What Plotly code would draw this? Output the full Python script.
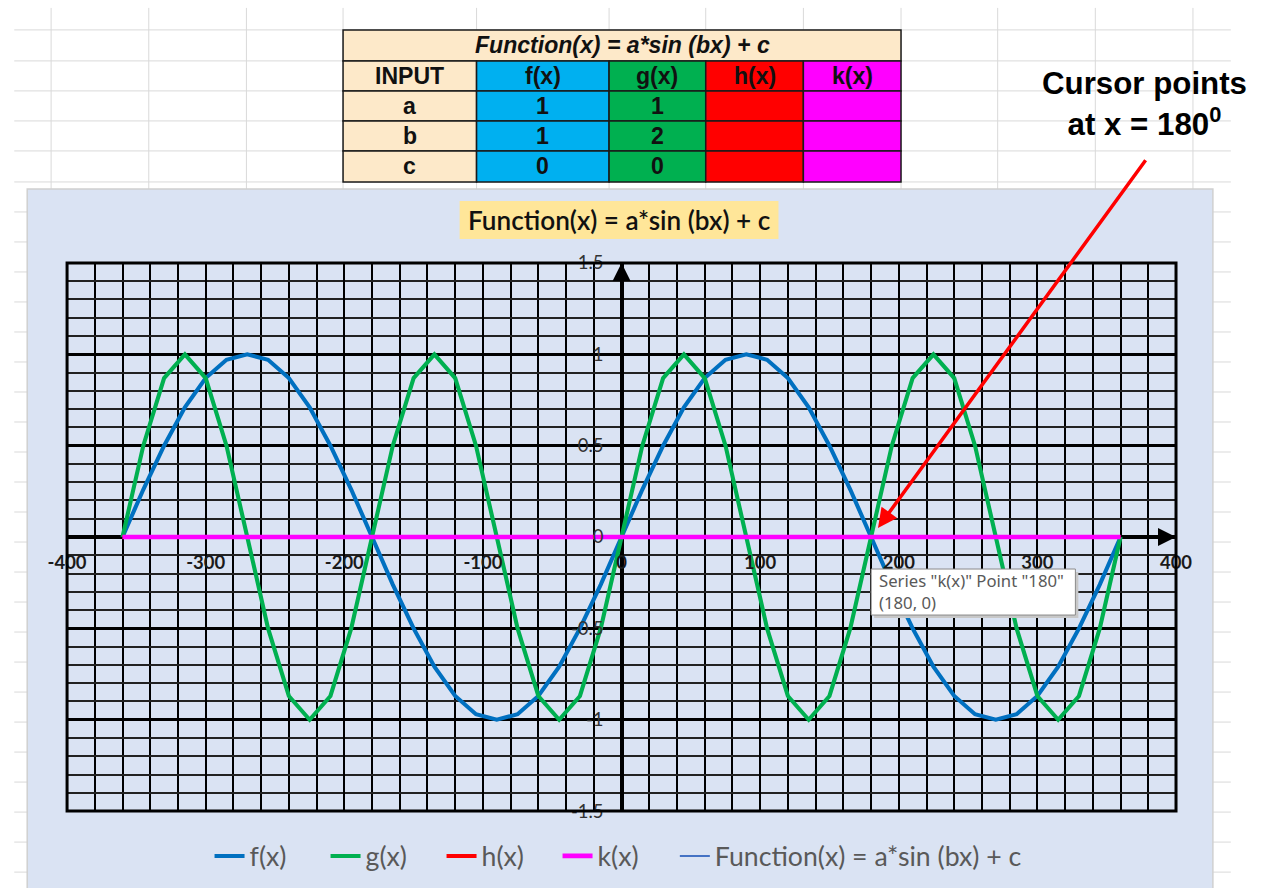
import plotly.graph_objects as go

W, H = 1261, 888

# ---------------- data ----------------
X_DEG = [-360, -345, -330, -315, -300, -285, -270, -255, -240, -225, -210, -195,
         -180, -165, -150, -135, -120, -105, -90, -75, -60, -45, -30, -15,
         0, 15, 30, 45, 60, 75, 90, 105, 120, 135, 150, 165,
         180, 195, 210, 225, 240, 255, 270, 285, 300, 315, 330, 345, 360]

F_VALUES = [0, 0.26, 0.5, 0.71, 0.87, 0.97, 1, 0.97, 0.87, 0.71, 0.5, 0.26,
            0, -0.26, -0.5, -0.71, -0.87, -0.97, -1, -0.97, -0.87, -0.71, -0.5, -0.26,
            0, 0.26, 0.5, 0.71, 0.87, 0.97, 1, 0.97, 0.87, 0.71, 0.5, 0.26,
            0, -0.26, -0.5, -0.71, -0.87, -0.97, -1, -0.97, -0.87, -0.71, -0.5, -0.26, 0]

G_VALUES = [0, 0.5, 0.87, 1, 0.87, 0.5, 0, -0.5, -0.87, -1, -0.87, -0.5,
            0, 0.5, 0.87, 1, 0.87, 0.5, 0, -0.5, -0.87, -1, -0.87, -0.5,
            0, 0.5, 0.87, 1, 0.87, 0.5, 0, -0.5, -0.87, -1, -0.87, -0.5,
            0, 0.5, 0.87, 1, 0.87, 0.5, 0, -0.5, -0.87, -1, -0.87, -0.5, 0]

H_VALUES = [0, 0, 0, 0, 0, 0, 0, 0, 0, 0, 0, 0,
            0, 0, 0, 0, 0, 0, 0, 0, 0, 0, 0, 0,
            0, 0, 0, 0, 0, 0, 0, 0, 0, 0, 0, 0,
            0, 0, 0, 0, 0, 0, 0, 0, 0, 0, 0, 0, 0]

K_VALUES = [0, 0, 0, 0, 0, 0, 0, 0, 0, 0, 0, 0,
            0, 0, 0, 0, 0, 0, 0, 0, 0, 0, 0, 0,
            0, 0, 0, 0, 0, 0, 0, 0, 0, 0, 0, 0,
            0, 0, 0, 0, 0, 0, 0, 0, 0, 0, 0, 0, 0]

SERIES_NAMES = ["f(x)", "g(x)", "h(x)", "k(x)", "Function(x) = a*sin (bx) + c"]

X_TICKS = [-400, -300, -200, -100, 0, 100, 200, 300, 400]
X_TICK_TEXT = ["-400", "-300", "-200", "-100", "0", "100", "200", "300", "400"]
Y_TICKS = [-1.5, -1, -0.5, 0, 0.5, 1, 1.5]
Y_TICK_TEXT = ["-1.5", "-1", "-0.5", "0", "0.5", "1", "1.5"]

CHART_TITLE = "Function(x) = a*sin (bx) + c"
TABLE_TITLE = "Function(x) = a*sin (bx) + c"
TABLE_HEADERS = ["INPUT", "f(x)", "g(x)", "h(x)", "k(x)"]
PARAM_NAMES = ["a", "b", "c"]
F_PARAMS = ["1", "1", "0"]
G_PARAMS = ["1", "2", "0"]
H_PARAMS = ["", "", ""]
K_PARAMS = ["", "", ""]

TOOLTIP_LINES = ['Series "k(x)" Point "180"', "(180, 0)"]
CURSOR_NOTE = "Cursor points<br>at x = 180<sup>0</sup>"
CURSOR_X = 180
CURSOR_Y = 0

# ---------------- helpers ----------------
# the photographed page comes out slightly shrunk about its centre; lay out
# in target-picture pixels and map them back to page coordinates.
S = 0.975
CX, CY = W / 2, H / 2


def px(x):
    return (CX + (x - CX) / S) / W


def py(y):
    return 1 - (CY + (y - CY) / S) / H


def fs(v):
    return v / S


# plot area in pixels
PL, PR, PT, PB = 63, 1176, 262, 810

fig = go.Figure()

colors = ["#0070C0", "#00B050", "#FF0000", "#FF00FF", "#4472C4"]
series = [F_VALUES, G_VALUES, H_VALUES, K_VALUES]
widths = [4, 4, 4, 4.5]
for name, vals, c, w in zip(SERIES_NAMES[:4], series, colors[:4], widths):
    fig.add_trace(go.Scatter(x=X_DEG, y=vals, mode="lines", name=name,
                             line=dict(color=c, width=fs(w)), hoverinfo="skip"))
fig.add_trace(go.Scatter(x=[None], y=[None], mode="lines", name=SERIES_NAMES[4],
                         line=dict(color=colors[4], width=2), hoverinfo="skip",
                         legend="legend2"))

# ---------------- shapes: spreadsheet background ----------------
shapes = []
sheet_line = dict(color="#D9D9D9", width=1)
row_ys = [29, 60, 90, 120, 150, 181] + [211 + 30 * i for i in range(23)]
for yy in row_ys:
    shapes.append(dict(type="line", xref="paper", yref="paper", layer="below",
                       x0=px(10), x1=px(1231), y0=py(yy), y1=py(yy), line=sheet_line))
for xx in [47, 145, 243, 340, 474, 607, 704, 802, 900, 997, 1095, 1193]:
    shapes.append(dict(type="line", xref="paper", yref="paper", layer="below",
                       x0=px(xx), x1=px(xx), y0=py(7), y1=py(900), line=sheet_line))

# chart area
shapes.append(dict(type="rect", xref="paper", yref="paper", layer="below",
                   x0=px(23), x1=px(1213), y0=py(188), y1=py(905),
                   fillcolor="#DAE3F3", line=dict(color="#D0D0D0", width=1.5)))

# chart title box
shapes.append(dict(type="rect", xref="paper", yref="paper", layer="below",
                   x0=px(457), x1=px(777), y0=py(200), y1=py(238),
                   fillcolor="#FFE699", line=dict(width=0)))

# ---------------- table ----------------
col_x = [340, 474, 607, 704, 802, 900]
row_y = [29, 60, 90, 120, 150, 181]
beige = "#FDE9C9"
col_fill = [beige, "#00B0F0", "#00B050", "#FF0000", "#FF00FF"]
tb_line = dict(color="#1A1A1A", width=1.5)
shapes.append(dict(type="rect", xref="paper", yref="paper", layer="above",
                   x0=px(col_x[0]), x1=px(col_x[-1]), y0=py(row_y[0]), y1=py(row_y[1]),
                   fillcolor=beige, line=tb_line))
for ci in range(5):
    for ri in range(1, 5):
        shapes.append(dict(type="rect", xref="paper", yref="paper", layer="above",
                           x0=px(col_x[ci]), x1=px(col_x[ci + 1]),
                           y0=py(row_y[ri]), y1=py(row_y[ri + 1]),
                           fillcolor=col_fill[ci], line=tb_line))

# plot border
shapes.append(dict(type="rect", xref="x domain", yref="y domain", layer="above",
                   x0=0, x1=1, y0=0, y1=1, line=dict(color="black", width=3)))

# tooltip box (with soft shadow)
shapes.append(dict(type="rect", xref="paper", yref="paper", layer="above",
                   x0=px(873), x1=px(1078), y0=py(571), y1=py(617),
                   fillcolor="#C8C8C8", line=dict(width=0)))
shapes.append(dict(type="rect", xref="paper", yref="paper", layer="above",
                   x0=px(870), x1=px(1075), y0=py(568), y1=py(614),
                   fillcolor="white", line=dict(color="#8A8A8A", width=1)))

annotations = []
tfont = dict(family="Liberation Sans", size=fs(22.5), color="#111111")
annotations.append(dict(xref="paper", yref="paper", x=px((col_x[0] + col_x[-1]) / 2),
                        y=py((row_y[0] + row_y[1]) / 2), text="<b><i>" + TABLE_TITLE + "</i></b>",
                        showarrow=False, font=tfont, xanchor="center", yanchor="middle"))
for ci, hdr in enumerate(TABLE_HEADERS):
    annotations.append(dict(xref="paper", yref="paper", x=px((col_x[ci] + col_x[ci + 1]) / 2),
                            y=py((row_y[1] + row_y[2]) / 2), text="<b>" + hdr + "</b>",
                            showarrow=False, font=tfont, xanchor="center", yanchor="middle"))
columns = [PARAM_NAMES, F_PARAMS, G_PARAMS, H_PARAMS, K_PARAMS]
for ci, col in enumerate(columns):
    for ri, val in enumerate(col):
        if val == "":
            continue
        annotations.append(dict(xref="paper", yref="paper", x=px((col_x[ci] + col_x[ci + 1]) / 2),
                                y=py((row_y[ri + 2] + row_y[ri + 3]) / 2), text="<b>" + val + "</b>",
                                showarrow=False, font=tfont, xanchor="center", yanchor="middle"))

# chart title
annotations.append(dict(xref="paper", yref="paper", x=px(617), y=py(219), text=CHART_TITLE,
                        showarrow=False, xanchor="center", yanchor="middle",
                        font=dict(family="Lato", size=fs(25.5), color="#111111", weight=600)))

# axis arrows
annotations.append(dict(x=400, y=0, ax=375, ay=0, xref="x", yref="y", axref="x", ayref="y",
                        text="", showarrow=True, arrowhead=2, arrowsize=1.2, arrowwidth=3,
                        arrowcolor="black", standoff=0))
annotations.append(dict(x=0, y=1.5, ax=0, ay=1.35, xref="x", yref="y", axref="x", ayref="y",
                        text="", showarrow=True, arrowhead=2, arrowsize=1.2, arrowwidth=3,
                        arrowcolor="black", standoff=0))

# tooltip text
annotations.append(dict(xref="paper", yref="paper", x=px(876), y=py(590),
                        text=TOOLTIP_LINES[0] + "<br>" + TOOLTIP_LINES[1], align="left",
                        showarrow=False, xanchor="left", yanchor="middle",
                        font=dict(family="Noto Sans", size=fs(16.3), color="#595959")))

# cursor note
annotations.append(dict(xref="paper", yref="paper", x=px(1144), y=py(103), text="<b>" + CURSOR_NOTE + "</b>",
                        showarrow=False, xanchor="center", yanchor="middle", align="center",
                        font=dict(family="Liberation Sans", size=fs(30.5), color="black")))

# red pointer arrow to the cursor point
annotations.append(dict(x=CURSOR_X + 5, y=CURSOR_Y + 0.05, xref="x", yref="y", text="",
                        showarrow=True, ax=262 / S, ay=-360 / S, axref="pixel", ayref="pixel",
                        arrowhead=2, arrowsize=1.1, arrowwidth=3.5, arrowcolor="#FF0000", standoff=0))

xdom = [px(PL), px(PR)]
ydom = [py(PB), py(PT)]
x_zero_paper = xdom[0] + (xdom[1] - xdom[0]) * 0.5
y_zero_paper = ydom[0] + (ydom[1] - ydom[0]) * 0.5

legend_font = dict(family="Lato", size=fs(26), color="#595959")

fig.update_layout(
    width=W, height=H,
    margin=dict(l=0, r=0, t=0, b=0),
    paper_bgcolor="white",
    plot_bgcolor="#DAE3F3",
    hovermode=False,
    shapes=shapes,
    annotations=annotations,
    showlegend=True,
    legend=dict(orientation="h", x=px(206), y=py(855), xanchor="left", yanchor="middle",
                bgcolor="rgba(0,0,0,0)", font=legend_font,
                itemwidth=30, entrywidth=round(fs(69)), tracegroupgap=0),
    legend2=dict(orientation="h", x=px(673), y=py(855), xanchor="left", yanchor="middle",
                 bgcolor="rgba(0,0,0,0)", font=legend_font, itemwidth=30),
    xaxis=dict(domain=xdom, range=[-400, 400], anchor="free", position=y_zero_paper,
               tickmode="array", tickvals=X_TICKS,
               ticktext=["<b>" + t + "</b>" for t in X_TICK_TEXT],
               tickfont=dict(family="Lato", size=fs(18), color="#1A1A1A"),
               ticks="", ticklabelstandoff=13,
               showgrid=True, gridcolor="black", gridwidth=2,
               minor=dict(dtick=20, tick0=0, showgrid=True, gridcolor="black", gridwidth=2),
               zeroline=True, zerolinecolor="black", zerolinewidth=4,
               showline=False, fixedrange=True),
    yaxis=dict(domain=ydom, range=[-1.5, 1.5], anchor="free", position=x_zero_paper,
               tickmode="array", tickvals=Y_TICKS, ticktext=Y_TICK_TEXT,
               tickfont=dict(family="Lato", size=fs(18), color="#333333"),
               ticks="", ticklabelstandoff=18,
               showgrid=True, gridcolor="black", gridwidth=2.5,
               minor=dict(dtick=0.1, tick0=0, showgrid=True, gridcolor="#222222", gridwidth=1.5),
               zeroline=True, zerolinecolor="black", zerolinewidth=4,
               showline=False, fixedrange=True),
)

fig.write_html(
    "out.html",
    post_script="document.documentElement.style.margin='0';document.body.style.margin='0';"
                "document.body.style.overflow='hidden';document.documentElement.style.overflow='hidden';",
)
